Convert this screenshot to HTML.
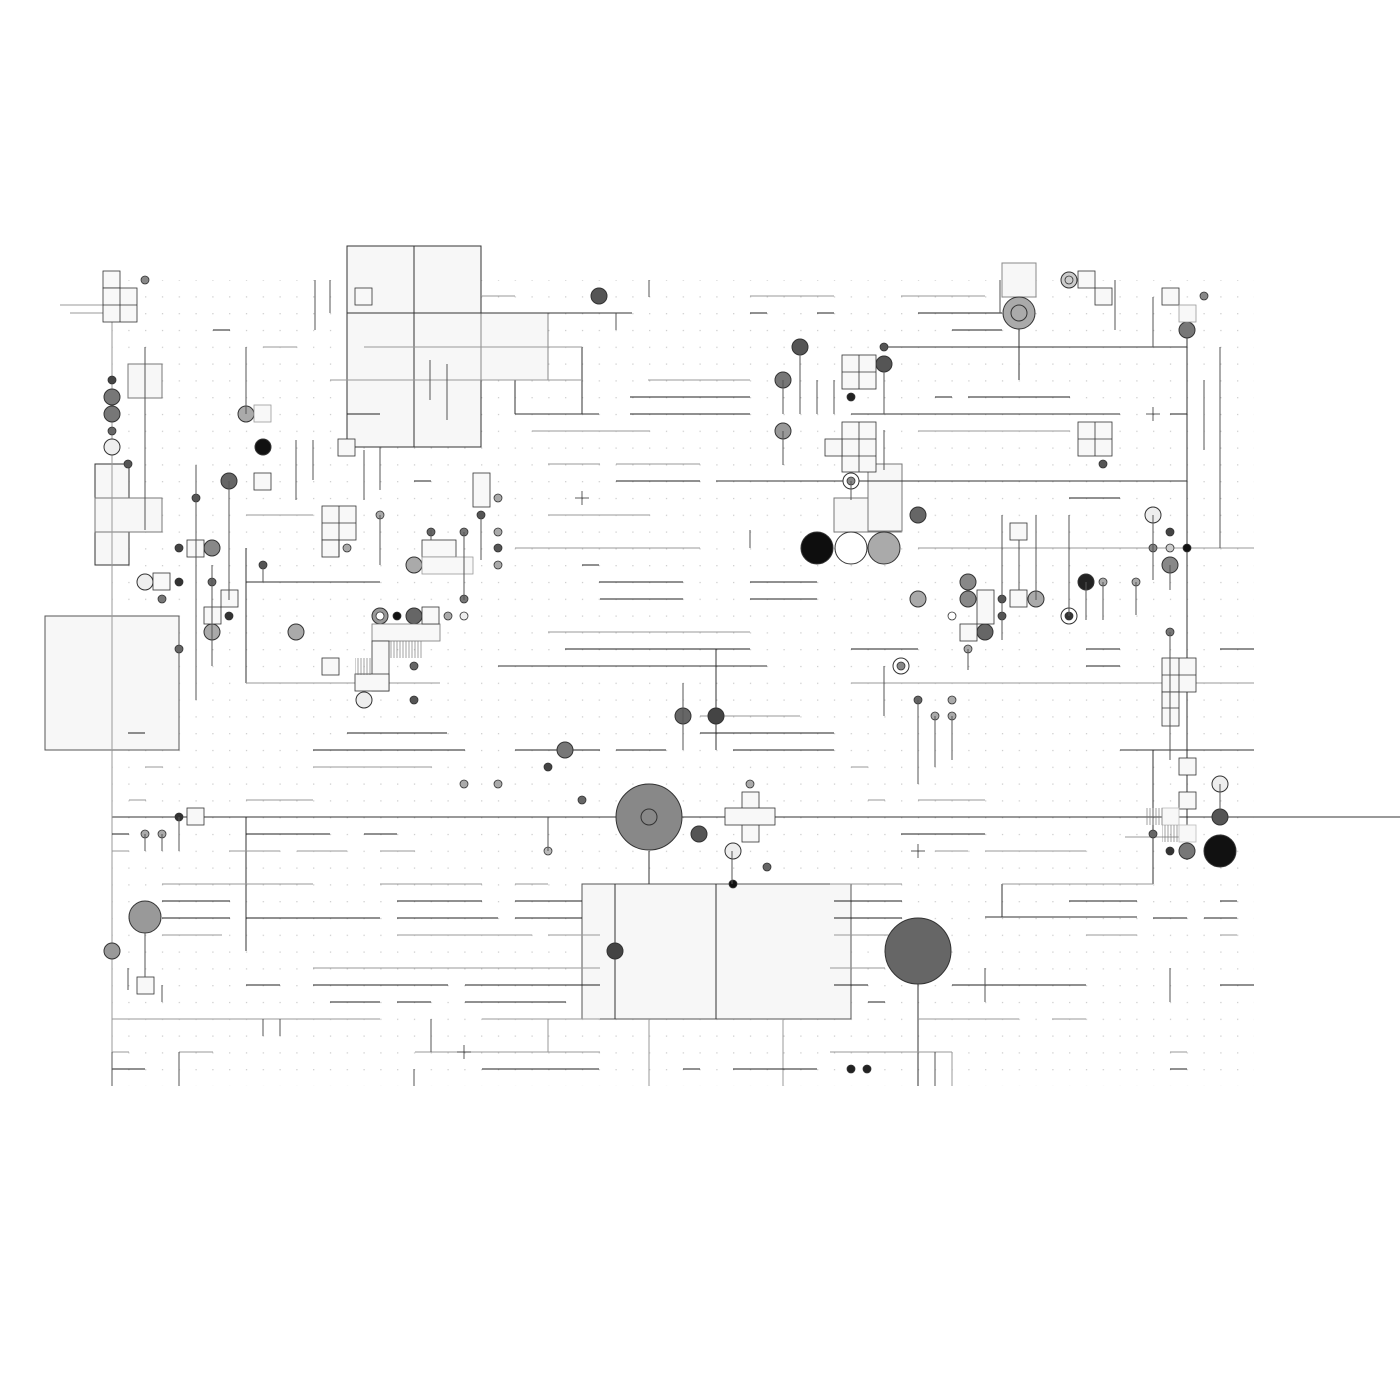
<!DOCTYPE html>
<html><head><meta charset="utf-8"><style>html,body{margin:0;padding:0;background:#fff}svg{display:block}</style></head>
<body>
<svg width="1400" height="1400" viewBox="0 0 1400 1400" xmlns="http://www.w3.org/2000/svg">
<defs>
<pattern id="dots" x="111.5" y="279.5" width="16.8" height="16.8" patternUnits="userSpaceOnUse"><rect x="0" y="0" width="1.2" height="1.2" fill="#c8c8c8"/></pattern>
<pattern id="hatch" width="3" height="10" patternUnits="userSpaceOnUse"><line x1="1" y1="0" x2="1" y2="10" stroke="#777" stroke-width="0.7"/></pattern>
</defs>
<rect x="112" y="280" width="1142" height="806" fill="url(#dots)"/>
<g stroke="#333" stroke-width="1" fill="#f7f7f7">
<rect x="347" y="246" width="134" height="201"/>
<rect x="481" y="313" width="67" height="67" stroke="#888"/>
<rect x="45" y="616" width="134" height="134" stroke="#555"/>
<rect x="582" y="884" width="269" height="135" stroke="#555"/>
<rect x="95" y="464" width="34" height="101"/>
<rect x="95" y="498" width="67" height="34" stroke="#777"/>
<rect x="834" y="498" width="67" height="34" stroke="#777"/>
<rect x="868" y="464" width="34" height="67" stroke="#777"/>
<rect x="1002" y="263" width="34" height="34" stroke="#888"/>
<rect x="128" y="364" width="34" height="34" stroke="#777"/>
</g>
<g stroke="#333" stroke-width="1" fill="none">
<line x1="414" y1="246" x2="414" y2="447"/><line x1="347" y1="313" x2="548" y2="313"/>
<line x1="716" y1="884" x2="716" y2="1019"/><line x1="615" y1="884" x2="615" y2="1019"/>
<line x1="112" y1="817" x2="1400" y2="817"/>
<line x1="716" y1="481" x2="1187" y2="481"/>
<line x1="1187" y1="330" x2="1187" y2="860"/>
<line x1="548" y1="313" x2="632" y2="313"/>
<line x1="515" y1="414" x2="599" y2="414"/><line x1="515" y1="380" x2="515" y2="414"/><line x1="582" y1="347" x2="582" y2="414"/>
<line x1="246" y1="582" x2="380" y2="582"/><line x1="246" y1="548" x2="246" y2="683"/>
<line x1="851" y1="414" x2="1120" y2="414"/><line x1="884" y1="347" x2="1187" y2="347"/>
<line x1="716" y1="649" x2="716" y2="750"/><line x1="498" y1="666" x2="767" y2="666"/>
<line x1="1002" y1="884" x2="1002" y2="917"/><line x1="985" y1="917" x2="1137" y2="917"/>
<line x1="1120" y1="750" x2="1254" y2="750"/><line x1="918" y1="951" x2="918" y2="1086"/>
<line x1="246" y1="817" x2="246" y2="951"/>
<line x1="1019" y1="313" x2="1019" y2="380"/>
<line x1="649" y1="851" x2="649" y2="884"/>
<line x1="1153" y1="750" x2="1153" y2="884"/>
</g>
<g stroke="#999" stroke-width="1">
<line x1="112" y1="600" x2="112" y2="1086"/><line x1="112" y1="280" x2="112" y2="600"/>
<line x1="1002" y1="884" x2="1153" y2="884"/>
<line x1="246" y1="683" x2="440" y2="683"/>
<line x1="918" y1="548" x2="1254" y2="548"/>
<line x1="112" y1="1019" x2="380" y2="1019"/><line x1="482" y1="1019" x2="600" y2="1019"/>
<line x1="548" y1="1019" x2="548" y2="1052"/>
<line x1="649" y1="1019" x2="649" y2="1086"/><line x1="783" y1="1019" x2="783" y2="1086"/>
<line x1="830" y1="1052" x2="952" y2="1052"/><line x1="952" y1="1052" x2="952" y2="1086"/>
<line x1="112" y1="1052" x2="129" y2="1052"/><line x1="179" y1="1052" x2="213" y2="1052"/><line x1="179" y1="1052" x2="179" y2="1086"/>
<line x1="415" y1="1052" x2="600" y2="1052"/>
<line x1="481" y1="296" x2="515" y2="296"/><line x1="364" y1="347" x2="582" y2="347"/>
<line x1="330" y1="380" x2="582" y2="380"/><line x1="750" y1="296" x2="834" y2="296"/><line x1="901" y1="296" x2="985" y2="296"/>
<line x1="648" y1="380" x2="750" y2="380"/><line x1="532" y1="431" x2="650" y2="431"/><line x1="918" y1="431" x2="1070" y2="431"/>
<line x1="548" y1="464" x2="600" y2="464"/><line x1="616" y1="464" x2="700" y2="464"/>
<line x1="515" y1="548" x2="700" y2="548"/><line x1="246" y1="515" x2="313" y2="515"/><line x1="548" y1="515" x2="650" y2="515"/>
<line x1="548" y1="632" x2="750" y2="632"/><line x1="851" y1="683" x2="1254" y2="683"/>
<line x1="700" y1="716" x2="800" y2="716"/><line x1="263" y1="347" x2="297" y2="347"/>
<line x1="145" y1="767" x2="163" y2="767"/><line x1="313" y1="767" x2="432" y2="767"/>
<line x1="129" y1="800" x2="146" y2="800"/><line x1="246" y1="800" x2="313" y2="800"/>
<line x1="112" y1="851" x2="129" y2="851"/><line x1="229" y1="851" x2="280" y2="851"/><line x1="297" y1="851" x2="347" y2="851"/><line x1="380" y1="851" x2="415" y2="851"/>
<line x1="162" y1="884" x2="313" y2="884"/><line x1="380" y1="884" x2="482" y2="884"/><line x1="515" y1="884" x2="548" y2="884"/>
<line x1="162" y1="935" x2="222" y2="935"/><line x1="397" y1="935" x2="532" y2="935"/><line x1="548" y1="935" x2="600" y2="935"/>
<line x1="313" y1="968" x2="600" y2="968"/>
<line x1="851" y1="767" x2="868" y2="767"/><line x1="868" y1="800" x2="885" y2="800"/><line x1="918" y1="800" x2="985" y2="800"/>
<line x1="935" y1="851" x2="968" y2="851"/><line x1="985" y1="851" x2="1086" y2="851"/>
<line x1="830" y1="884" x2="902" y2="884"/><line x1="834" y1="935" x2="935" y2="935"/><line x1="1086" y1="935" x2="1137" y2="935"/>
<line x1="830" y1="968" x2="885" y2="968"/><line x1="918" y1="1019" x2="1019" y2="1019"/><line x1="1052" y1="1019" x2="1086" y2="1019"/>
<line x1="1170" y1="1052" x2="1187" y2="1052"/><line x1="1220" y1="935" x2="1237" y2="935"/>
<line x1="60" y1="305" x2="128" y2="305"/><line x1="70" y1="313" x2="120" y2="313"/>
<line x1="1120" y1="683" x2="1254" y2="683"/><line x1="1125" y1="837" x2="1187" y2="837"/>
</g>
<g stroke="#222" stroke-width="1">
<line x1="630" y1="397" x2="750" y2="397"/><line x1="630" y1="414" x2="750" y2="414"/>
<line x1="750" y1="313" x2="767" y2="313"/><line x1="817" y1="313" x2="834" y2="313"/><line x1="918" y1="313" x2="1002" y2="313"/>
<line x1="213" y1="330" x2="230" y2="330"/><line x1="952" y1="330" x2="1002" y2="330"/>
<line x1="935" y1="397" x2="952" y2="397"/><line x1="968" y1="397" x2="1070" y2="397"/>
<line x1="347" y1="414" x2="380" y2="414"/><line x1="1170" y1="414" x2="1187" y2="414"/>
<line x1="414" y1="481" x2="431" y2="481"/><line x1="616" y1="481" x2="700" y2="481"/>
<line x1="1069" y1="498" x2="1120" y2="498"/><line x1="582" y1="565" x2="599" y2="565"/>
<line x1="599" y1="582" x2="683" y2="582"/><line x1="750" y1="582" x2="817" y2="582"/>
<line x1="600" y1="599" x2="683" y2="599"/><line x1="750" y1="599" x2="817" y2="599"/>
<line x1="565" y1="649" x2="750" y2="649"/><line x1="851" y1="649" x2="918" y2="649"/><line x1="1086" y1="649" x2="1120" y2="649"/><line x1="1220" y1="649" x2="1254" y2="649"/>
<line x1="1086" y1="666" x2="1120" y2="666"/>
<line x1="347" y1="733" x2="447" y2="733"/><line x1="700" y1="733" x2="834" y2="733"/>
<line x1="313" y1="750" x2="465" y2="750"/><line x1="515" y1="750" x2="600" y2="750"/><line x1="616" y1="750" x2="666" y2="750"/><line x1="733" y1="750" x2="834" y2="750"/>
<line x1="112" y1="834" x2="129" y2="834"/><line x1="246" y1="834" x2="330" y2="834"/><line x1="364" y1="834" x2="397" y2="834"/><line x1="901" y1="834" x2="985" y2="834"/>
<line x1="162" y1="901" x2="230" y2="901"/><line x1="397" y1="901" x2="482" y2="901"/><line x1="515" y1="901" x2="582" y2="901"/>
<line x1="162" y1="918" x2="230" y2="918"/><line x1="246" y1="918" x2="380" y2="918"/><line x1="397" y1="918" x2="498" y2="918"/><line x1="515" y1="918" x2="582" y2="918"/>
<line x1="834" y1="901" x2="902" y2="901"/><line x1="1069" y1="901" x2="1137" y2="901"/><line x1="1220" y1="901" x2="1237" y2="901"/>
<line x1="834" y1="918" x2="902" y2="918"/><line x1="1153" y1="918" x2="1187" y2="918"/><line x1="1204" y1="918" x2="1237" y2="918"/>
<line x1="246" y1="985" x2="280" y2="985"/><line x1="313" y1="985" x2="448" y2="985"/><line x1="465" y1="985" x2="600" y2="985"/>
<line x1="834" y1="985" x2="868" y2="985"/><line x1="952" y1="985" x2="1086" y2="985"/><line x1="1220" y1="985" x2="1254" y2="985"/>
<line x1="330" y1="1002" x2="380" y2="1002"/><line x1="397" y1="1002" x2="431" y2="1002"/><line x1="465" y1="1002" x2="566" y2="1002"/><line x1="868" y1="1002" x2="885" y2="1002"/>
<line x1="482" y1="1069" x2="599" y2="1069"/><line x1="683" y1="1069" x2="700" y2="1069"/>
<line x1="733" y1="1069" x2="817" y2="1069"/><line x1="112" y1="1069" x2="145" y2="1069"/><line x1="1170" y1="1069" x2="1187" y2="1069"/>
<line x1="128" y1="733" x2="145" y2="733"/>
</g>
<g stroke="#333" stroke-width="1">
<circle cx="649" cy="817" r="33" fill="#888"/><circle cx="649" cy="817" r="8" fill="none"/>
<circle cx="918" cy="951" r="33" fill="#666"/>
<circle cx="817" cy="548" r="16" fill="#0e0e0e"/>
<circle cx="851" cy="548" r="16" fill="#fff"/>
<circle cx="884" cy="548" r="16" fill="#aaa"/>
<circle cx="1220" cy="851" r="16" fill="#111"/>
<circle cx="145" cy="917" r="16" fill="#999"/>
<circle cx="1019" cy="313" r="16" fill="#aaa"/><circle cx="1019" cy="313" r="8" fill="none"/>
<circle cx="599" cy="296" r="8" fill="#555"/><circle cx="800" cy="347" r="8" fill="#555"/>
<circle cx="783" cy="380" r="8" fill="#777"/><circle cx="783" cy="431" r="8" fill="#999"/>
<circle cx="884" cy="364" r="8" fill="#555"/><circle cx="1187" cy="330" r="8" fill="#777"/>
<circle cx="112" cy="397" r="8" fill="#777"/><circle cx="112" cy="414" r="8" fill="#777"/>
<circle cx="112" cy="447" r="8" fill="#eee"/><circle cx="246" cy="414" r="8" fill="#aaa"/>
<circle cx="263" cy="447" r="8" fill="#111"/><circle cx="229" cy="481" r="8" fill="#666"/>
<circle cx="212" cy="548" r="8" fill="#888"/><circle cx="145" cy="582" r="8" fill="#eee"/>
<circle cx="212" cy="632" r="8" fill="#aaa"/><circle cx="296" cy="632" r="8" fill="#aaa"/>
<circle cx="414" cy="565" r="8" fill="#aaa"/><circle cx="414" cy="616" r="8" fill="#666"/>
<circle cx="380" cy="616" r="8" fill="#999"/><circle cx="364" cy="700" r="8" fill="#eee"/>
<circle cx="683" cy="716" r="8" fill="#666"/><circle cx="716" cy="716" r="8" fill="#444"/>
<circle cx="565" cy="750" r="8" fill="#777"/><circle cx="699" cy="834" r="8" fill="#555"/>
<circle cx="733" cy="851" r="8" fill="#eee"/><circle cx="615" cy="951" r="8" fill="#444"/>
<circle cx="112" cy="951" r="8" fill="#999"/>
<circle cx="918" cy="515" r="8" fill="#666"/><circle cx="918" cy="599" r="8" fill="#aaa"/>
<circle cx="968" cy="582" r="8" fill="#888"/><circle cx="968" cy="599" r="8" fill="#888"/>
<circle cx="985" cy="632" r="8" fill="#666"/><circle cx="1036" cy="599" r="8" fill="#aaa"/>
<circle cx="1086" cy="582" r="8" fill="#222"/><circle cx="1153" cy="515" r="8" fill="#eee"/>
<circle cx="1170" cy="565" r="8" fill="#888"/><circle cx="1220" cy="784" r="8" fill="#eee"/>
<circle cx="1220" cy="817" r="8" fill="#555"/><circle cx="1187" cy="851" r="8" fill="#777"/>
<circle cx="1069" cy="280" r="8" fill="#ccc"/><circle cx="851" cy="481" r="8" fill="#fff"/>
<circle cx="901" cy="666" r="8" fill="#fff"/><circle cx="1069" cy="616" r="8" fill="#fff"/>
</g>
<g stroke="#333" stroke-width="0.8">
<circle cx="851" cy="481" r="4" fill="#888"/><circle cx="901" cy="666" r="4" fill="#888"/><circle cx="1069" cy="616" r="4" fill="#333"/>
<circle cx="380" cy="616" r="4" fill="#fff"/><circle cx="1069" cy="280" r="4" fill="none"/>
<circle cx="851" cy="1069" r="4" fill="#222"/><circle cx="867" cy="1069" r="4" fill="#222"/>
<circle cx="733" cy="884" r="4" fill="#111"/><circle cx="1187" cy="548" r="4" fill="#111"/>
<circle cx="851" cy="397" r="4" fill="#222"/><circle cx="397" cy="616" r="4" fill="#111"/>
<circle cx="145" cy="280" r="4" fill="#888"/><circle cx="112" cy="380" r="4" fill="#444"/>
<circle cx="112" cy="431" r="4" fill="#666"/><circle cx="128" cy="464" r="4" fill="#555"/>
<circle cx="196" cy="498" r="4" fill="#555"/><circle cx="179" cy="548" r="4" fill="#444"/>
<circle cx="179" cy="582" r="4" fill="#333"/><circle cx="162" cy="599" r="4" fill="#777"/>
<circle cx="212" cy="582" r="4" fill="#666"/><circle cx="229" cy="616" r="4" fill="#333"/>
<circle cx="179" cy="649" r="4" fill="#666"/><circle cx="263" cy="565" r="4" fill="#555"/>
<circle cx="380" cy="515" r="4" fill="#aaa"/><circle cx="347" cy="548" r="4" fill="#aaa"/>
<circle cx="431" cy="532" r="4" fill="#666"/><circle cx="464" cy="532" r="4" fill="#777"/>
<circle cx="481" cy="515" r="4" fill="#555"/><circle cx="498" cy="498" r="4" fill="#aaa"/>
<circle cx="498" cy="532" r="4" fill="#aaa"/><circle cx="498" cy="548" r="4" fill="#555"/>
<circle cx="498" cy="565" r="4" fill="#aaa"/><circle cx="464" cy="599" r="4" fill="#777"/>
<circle cx="464" cy="616" r="4" fill="#eee"/><circle cx="448" cy="616" r="4" fill="#aaa"/>
<circle cx="414" cy="666" r="4" fill="#666"/><circle cx="414" cy="700" r="4" fill="#555"/>
<circle cx="548" cy="767" r="4" fill="#444"/><circle cx="582" cy="800" r="4" fill="#666"/>
<circle cx="464" cy="784" r="4" fill="#aaa"/><circle cx="498" cy="784" r="4" fill="#aaa"/>
<circle cx="548" cy="851" r="4" fill="#bbb"/><circle cx="750" cy="784" r="4" fill="#aaa"/>
<circle cx="767" cy="867" r="4" fill="#666"/><circle cx="145" cy="834" r="4" fill="#aaa"/>
<circle cx="162" cy="834" r="4" fill="#aaa"/><circle cx="179" cy="817" r="4" fill="#333"/>
<circle cx="884" cy="347" r="4" fill="#555"/><circle cx="1103" cy="464" r="4" fill="#555"/>
<circle cx="1204" cy="296" r="4" fill="#888"/><circle cx="1170" cy="532" r="4" fill="#444"/>
<circle cx="1153" cy="548" r="4" fill="#888"/><circle cx="1170" cy="548" r="4" fill="#ccc"/>
<circle cx="1103" cy="582" r="4" fill="#aaa"/><circle cx="1136" cy="582" r="4" fill="#aaa"/>
<circle cx="1002" cy="599" r="4" fill="#555"/><circle cx="1002" cy="616" r="4" fill="#555"/>
<circle cx="952" cy="616" r="4" fill="#fff"/><circle cx="968" cy="649" r="4" fill="#aaa"/>
<circle cx="918" cy="700" r="4" fill="#666"/><circle cx="935" cy="716" r="4" fill="#aaa"/>
<circle cx="952" cy="700" r="4" fill="#aaa"/><circle cx="952" cy="716" r="4" fill="#aaa"/>
<circle cx="1170" cy="632" r="4" fill="#777"/><circle cx="1153" cy="834" r="4" fill="#666"/>
<circle cx="1170" cy="851" r="4" fill="#333"/>
</g>
<g stroke="#333" stroke-width="0.8" fill="#f8f8f8">
<rect x="355" y="288" width="17" height="17"/><rect x="338" y="439" width="17" height="17"/>
<rect x="103" y="271" width="17" height="17"/><rect x="103" y="288" width="34" height="34"/>
<rect x="254" y="473" width="17" height="17"/><rect x="187" y="540" width="17" height="17"/>
<rect x="204" y="607" width="17" height="17"/><rect x="221" y="590" width="17" height="17"/>
<rect x="254" y="405" width="17" height="17" stroke="#999"/>
<rect x="322" y="506" width="34" height="34"/><rect x="322" y="540" width="17" height="17"/>
<rect x="473" y="473" width="17" height="34"/><rect x="422" y="540" width="34" height="17"/><rect x="422" y="557" width="51" height="17" stroke="#999"/>
<rect x="372" y="624" width="68" height="17" stroke="#777"/><rect x="372" y="641" width="17" height="50"/><rect x="355" y="674" width="34" height="17"/>
<rect x="422" y="607" width="17" height="17"/>
<rect x="842" y="355" width="34" height="34"/><rect x="842" y="422" width="34" height="50"/>
<rect x="825" y="439" width="17" height="17"/><rect x="1078" y="422" width="34" height="34"/>
<rect x="1078" y="271" width="17" height="17"/><rect x="1095" y="288" width="17" height="17"/>
<rect x="1162" y="288" width="17" height="17"/><rect x="1179" y="305" width="17" height="17" stroke="#999"/><rect x="1010" y="523" width="17" height="17"/>
<rect x="977" y="590" width="17" height="34"/><rect x="1010" y="590" width="17" height="17"/>
<rect x="960" y="624" width="17" height="17"/><rect x="1162" y="658" width="34" height="34"/>
<rect x="1162" y="692" width="17" height="34"/><rect x="1179" y="758" width="17" height="17"/>
<rect x="1179" y="792" width="17" height="17"/><rect x="1162" y="808" width="17" height="17" stroke="#bbb"/><rect x="1179" y="825" width="17" height="17" stroke="#bbb"/>
<rect x="742" y="792" width="17" height="50"/><rect x="725" y="808" width="50" height="17"/>
<rect x="187" y="808" width="17" height="17"/><rect x="137" y="977" width="17" height="17"/>
<rect x="322" y="658" width="17" height="17"/><rect x="153" y="573" width="17" height="17"/>
</g>
<rect x="1146" y="808" width="17" height="17" fill="url(#hatch)"/>
<rect x="1162" y="825" width="17" height="17" fill="url(#hatch)"/>
<rect x="355" y="658" width="17" height="17" fill="url(#hatch)"/>
<rect x="389" y="641" width="17" height="17" fill="url(#hatch)"/>
<rect x="406" y="641" width="17" height="17" fill="url(#hatch)"/>
<g stroke="#333" stroke-width="0.8">
<line x1="842" y1="372" x2="876" y2="372"/><line x1="859" y1="355" x2="859" y2="389"/>
<line x1="842" y1="439" x2="876" y2="439"/><line x1="842" y1="456" x2="876" y2="456"/><line x1="859" y1="422" x2="859" y2="472"/>
<line x1="1078" y1="439" x2="1112" y2="439"/><line x1="1095" y1="422" x2="1095" y2="456"/>
<line x1="322" y1="523" x2="356" y2="523"/><line x1="339" y1="506" x2="339" y2="557"/>
<line x1="1162" y1="675" x2="1196" y2="675"/><line x1="1179" y1="658" x2="1179" y2="692"/><line x1="1162" y1="708" x2="1179" y2="708"/>
<line x1="575" y1="498" x2="589" y2="498"/><line x1="582" y1="491" x2="582" y2="505"/>
<line x1="1146" y1="414" x2="1160" y2="414"/><line x1="1153" y1="407" x2="1153" y2="421"/>
<line x1="911" y1="851" x2="925" y2="851"/><line x1="918" y1="844" x2="918" y2="858"/>
<line x1="457" y1="1052" x2="471" y2="1052"/><line x1="464" y1="1045" x2="464" y2="1059"/>
<line x1="103" y1="305" x2="137" y2="305"/><line x1="120" y1="288" x2="120" y2="322"/>
</g>
<g stroke="#555" stroke-width="1">
<line x1="315" y1="280" x2="315" y2="330"/><line x1="330" y1="280" x2="330" y2="313"/>
<line x1="649" y1="280" x2="649" y2="297"/><line x1="616" y1="313" x2="616" y2="330"/>
<line x1="1153" y1="297" x2="1153" y2="347"/><line x1="1220" y1="347" x2="1220" y2="548"/>
<line x1="1204" y1="380" x2="1204" y2="450"/><line x1="246" y1="347" x2="246" y2="414"/>
<line x1="145" y1="347" x2="145" y2="530"/>
<line x1="179" y1="1052" x2="179" y2="1086"/><line x1="414" y1="1069" x2="414" y2="1086"/>
<line x1="935" y1="1052" x2="935" y2="1086"/>
<line x1="112" y1="1052" x2="112" y2="1086"/>
<line x1="196" y1="465" x2="196" y2="700"/><line x1="229" y1="481" x2="229" y2="600"/><line x1="212" y1="565" x2="212" y2="666"/>
<line x1="296" y1="440" x2="296" y2="500"/><line x1="313" y1="440" x2="313" y2="480"/><line x1="263" y1="565" x2="263" y2="582"/>
<line x1="380" y1="515" x2="380" y2="565"/><line x1="364" y1="450" x2="364" y2="500"/><line x1="380" y1="447" x2="380" y2="490"/>
<line x1="431" y1="530" x2="431" y2="540"/><line x1="464" y1="532" x2="464" y2="600"/><line x1="481" y1="515" x2="481" y2="560"/>
<line x1="430" y1="360" x2="430" y2="400"/><line x1="447" y1="364" x2="447" y2="420"/>
<line x1="800" y1="347" x2="800" y2="414"/><line x1="783" y1="380" x2="783" y2="414"/><line x1="817" y1="380" x2="817" y2="414"/>
<line x1="834" y1="380" x2="834" y2="414"/><line x1="884" y1="364" x2="884" y2="414"/><line x1="884" y1="430" x2="884" y2="470"/>
<line x1="783" y1="431" x2="783" y2="465"/><line x1="851" y1="481" x2="851" y2="500"/><line x1="750" y1="530" x2="750" y2="548"/>
<line x1="1002" y1="515" x2="1002" y2="640"/><line x1="1019" y1="540" x2="1019" y2="590"/><line x1="1036" y1="515" x2="1036" y2="600"/>
<line x1="1069" y1="515" x2="1069" y2="616"/><line x1="1086" y1="582" x2="1086" y2="620"/><line x1="1103" y1="582" x2="1103" y2="620"/>
<line x1="1153" y1="515" x2="1153" y2="580"/><line x1="1136" y1="582" x2="1136" y2="615"/><line x1="1170" y1="565" x2="1170" y2="590"/>
<line x1="1170" y1="632" x2="1170" y2="760"/><line x1="1220" y1="784" x2="1220" y2="817"/>
<line x1="918" y1="700" x2="918" y2="784"/><line x1="935" y1="716" x2="935" y2="767"/><line x1="952" y1="716" x2="952" y2="760"/>
<line x1="968" y1="649" x2="968" y2="670"/><line x1="884" y1="666" x2="884" y2="716"/>
<line x1="683" y1="683" x2="683" y2="750"/><line x1="732" y1="851" x2="732" y2="884"/>
<line x1="145" y1="834" x2="145" y2="851"/><line x1="162" y1="834" x2="162" y2="851"/><line x1="179" y1="817" x2="179" y2="851"/>
<line x1="145" y1="933" x2="145" y2="977"/><line x1="128" y1="968" x2="128" y2="990"/><line x1="162" y1="985" x2="162" y2="1002"/>
<line x1="263" y1="1019" x2="263" y2="1036"/><line x1="280" y1="1019" x2="280" y2="1036"/>
<line x1="431" y1="1019" x2="431" y2="1052"/><line x1="548" y1="817" x2="548" y2="851"/>
<line x1="985" y1="968" x2="985" y2="1002"/><line x1="1170" y1="968" x2="1170" y2="1002"/>
<line x1="1000" y1="280" x2="1000" y2="313"/><line x1="1115" y1="280" x2="1115" y2="330"/>
</g>
</svg>
</body></html>
